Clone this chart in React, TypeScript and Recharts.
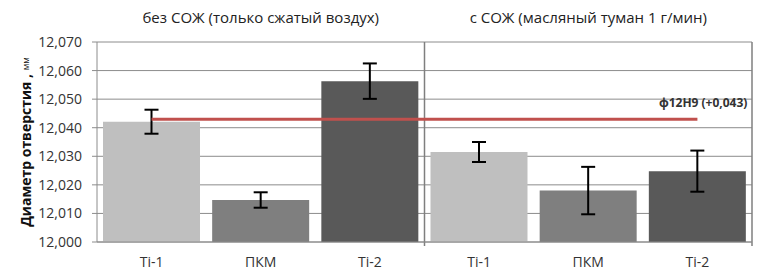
import React from "react";
import {
  ComposedChart,
  Bar,
  Line,
  XAxis,
  YAxis,
  CartesianGrid,
  ErrorBar,
  Cell,
  ReferenceLine,
  LabelList,
} from "recharts";

const categories = ["Ti-1", "ПКМ", "Ti-2", "Ti-1", "ПКМ", "Ti-2"];
const diameters = [12.0421, 12.0147, 12.0563, 12.0315, 12.018, 12.0248];
const errors = [0.0042, 0.0027, 0.0062, 0.0035, 0.0083, 0.0072];
const tolerance = 12.043;
const toleranceLabel = "ф12H9 (+0,043)";
const yTicks = [12.0, 12.01, 12.02, 12.03, 12.04, 12.05, 12.06, 12.07];
const groupTitles = ["без СОЖ (только сжатый воздух)", "с СОЖ (масляный туман 1 г/мин)"];
const barColors = ["#BFBFBF", "#7F7F7F", "#595959", "#BFBFBF", "#7F7F7F", "#595959"];

const data = categories.map((c, i) => ({
  pos: i + 0.5,
  name: c,
  value: diameters[i],
  err: errors[i],
  tol: tolerance,
}));
const xTicks = data.map((d) => d.pos);

const fmt = (v: number) => v.toFixed(3).replace(".", ",");
const font = "'Open Sans', 'Liberation Sans', Arial, sans-serif";

const TolLabel = (props: any) => {
  const { x, y, index } = props;
  if (index !== categories.length - 1) return null;
  return (
    <text
      x={x + 50}
      y={y - 12}
      textAnchor="end"
      fontSize={12}
      fontWeight="bold"
      fill="#333"
      fontFamily={font}
    >
      {toleranceLabel}
    </text>
  );
};

export default function App() {
  return (
    <div style={{ position: "absolute", left: 0, top: 0, width: 768, height: 272, background: "#fff", fontFamily: font }}>
      <ComposedChart
        width={768}
        height={272}
        data={data}
        margin={{ top: 42, right: 16, bottom: 0, left: 0 }}
        barCategoryGap="5.5%"
      >
        <CartesianGrid vertical={false} stroke="#8c8c8c" strokeWidth={1} />
        <XAxis
          dataKey="pos"
          type="number"
          domain={[0, 6]}
          ticks={xTicks}
          allowDataOverflow
          interval={0}
          height={30}
          tickFormatter={(v: any) => categories[Math.floor(v)]}
          tick={{ fontSize: 14, fill: "#333", fontFamily: font }}
          tickLine={false}
          axisLine={{ stroke: "#8c8c8c" }}
          tickMargin={9}
        />
        <YAxis
          width={97}
          domain={[12.0, 12.07]}
          ticks={yTicks}
          allowDataOverflow
          tickFormatter={fmt}
          tick={{ fontSize: 14, fill: "#333", fontFamily: font }}
          tickLine={{ stroke: "#8c8c8c" }}
          tickSize={5}
          tickMargin={10}
          axisLine={{ stroke: "#8c8c8c" }}
          label={(props: any) => {
            const vb = props.viewBox;
            const cx = 25;
            const cy = vb.y + vb.height / 2;
            return (
              <text
                x={cx}
                y={cy}
                transform={`rotate(-90, ${cx}, ${cy})`}
                textAnchor="middle"
                dominantBaseline="central"
                fontFamily={font}
                fill="#111"
              >
                <tspan fontSize={14} fontWeight="bold">Диаметр отверстия , </tspan>
                <tspan fontSize={9}>мм</tspan>
              </text>
            );
          }}
        />
        <ReferenceLine
          segment={[{ x: 3, y: 11.9986 }, { x: 3, y: 12.07 }]}
          stroke="#7f7f7f"
          strokeWidth={1.5}
          ifOverflow="visible"
        />
        <ReferenceLine
          segment={[{ x: 6, y: 11.9986 }, { x: 6, y: 12.07 }]}
          stroke="#7f7f7f"
          strokeWidth={1.5}
          ifOverflow="visible"
        />
        <Bar dataKey="value" isAnimationActive={false}>
          {data.map((d, i) => (
            <Cell key={i} fill={barColors[i]} />
          ))}
          <ErrorBar dataKey="err" width={7} stroke="#000" strokeWidth={2} direction="y" />
        </Bar>
        <Line
          dataKey="tol"
          stroke="#C0504D"
          strokeWidth={3}
          dot={false}
          activeDot={false}
          isAnimationActive={false}
        >
          <LabelList dataKey="tol" content={<TolLabel />} />
        </Line>
        <ReferenceLine
          segment={[{ x: 1.5, y: 12.0784 }, { x: 1.5, y: 12.0784 }]}
          stroke="none"
          ifOverflow="visible"
          label={{ value: groupTitles[0], position: "center", fontSize: 15, fill: "#222", fontFamily: font }}
        />
        <ReferenceLine
          segment={[{ x: 4.5, y: 12.0784 }, { x: 4.5, y: 12.0784 }]}
          stroke="none"
          ifOverflow="visible"
          label={{ value: groupTitles[1], position: "center", fontSize: 15, fill: "#222", fontFamily: font }}
        />
      </ComposedChart>
    </div>
  );
}
